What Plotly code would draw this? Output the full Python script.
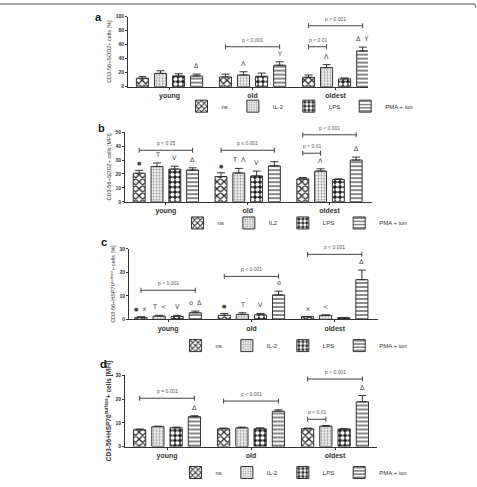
import plotly.graph_objects as go

W, H = 477, 487

groups = ["young", "old", "oldest"]
treatments = ["ns", "IL-2", "LPS", "PMA + ion"]
legend_b = ["ns", "IL2", "LPS", "PMA + ion"]

# ---- panel a: CD3-56+SOD2+ cells [%]
a_mean = [[12.0, 13.9, 13.4], [19.0, 16.7, 27.3], [15.3, 14.8, 11.1], [15.3, 30.6, 51.0]]
a_top = [[14.4, 18.0, 16.7], [22.7, 21.3, 31.5], [18.5, 19.4, 12.5], [18.0, 35.6, 56.5]]
a_marks = [("young", 3, "Δ"), ("old", 1, "Λ"), ("old", 3, "Y"),
           ("oldest", 1, "Λ"), ("oldest", 3, "Δ  Y")]
a_brackets = [("old", 0, 3, 57, "p < 0.001"), ("oldest", 0, 3, 87, "p < 0.001"),
              ("oldest", 0, 1, 57, "p < 0.01")]

BUL = "<span style='font-size:5px'>●</span>"

# ---- panel b: CD3-56+SOD2+ cells [MFI]
b_mean = [[20.5, 18.1, 16.5], [25.3, 20.7, 22.1], [23.5, 18.6, 16.0], [22.8, 25.8, 30.0]]
b_top = [[22.6, 20.9, 17.4], [27.9, 24.0, 23.7], [25.6, 22.1, 16.5], [24.4, 28.8, 32.1]]
b_marks = [("young", 0, BUL), ("young", 1, "T"), ("young", 2, "V"), ("young", 3, "Δ"),
           ("old", 0, BUL), ("old", 1, "T  Λ"), ("old", 2, "V"),
           ("oldest", 1, "Λ"), ("oldest", 3, "Δ")]
b_brackets = [("young", 0, 3, 37, "p < 0.05"), ("old", 0, 3, 37, "p ≤ 0.001"),
              ("oldest", 0, 3, 48.1, "p < 0.001"), ("oldest", 0, 1, 34.9, "p < 0.01")]

# ---- panel c: CD3-56+HSP70surface+ cells [%]
c_mean = [[0.8, 1.7, 1.1], [1.4, 2.1, 1.7], [1.2, 1.9, 0.7], [2.8, 10.4, 16.9]]
c_top = [[1.1, 2.5, 1.2], [1.7, 2.8, 1.9], [1.7, 2.5, 0.8], [3.5, 12.0, 21.0]]
c_marks = [("young", 0, BUL + "  x"), ("young", 1, "T  <"), ("young", 2, "V"), ("young", 3, "o  Δ"),
           ("old", 0, BUL), ("old", 1, "T"), ("old", 2, "V"), ("old", 3, "o"),
           ("oldest", 0, "x"), ("oldest", 1, "<"), ("oldest", 3, "Δ")]
c_brackets = [("young", 0, 3, 12.4, "p < 0.001"), ("old", 0, 3, 18.3, "p < 0.001"),
              ("oldest", 0, 3, 27.7, "p < 0.001")]

# ---- panel d: CD3-56+HSP70surface+ cells [MFI]
d_mean = [[7.1, 7.5, 7.5], [8.4, 7.9, 8.6], [7.9, 7.5, 7.4], [12.6, 14.9, 18.9]]
d_top = [[7.4, 7.8, 7.8], [8.6, 8.2, 8.9], [8.2, 7.9, 7.5], [13.0, 15.5, 21.5]]
d_marks = [("young", 3, "Δ"), ("oldest", 3, "Δ")]
d_brackets = [("young", 0, 3, 20.4, "p = 0.001"), ("old", 0, 3, 19.2, "p < 0.001"),
              ("oldest", 0, 3, 28.5, "p < 0.001"), ("oldest", 0, 1, 11.5, "p < 0.01")]

y_titles = ["CD3-56+SOD2+ cells [%]", "CD3-56+SOD2+ cells [MFI]",
            "CD3-56+HSP70<sup>surface</sup>+ cells [%]",
            "CD3-56+HSP70<sup>surface</sup>+ cells [MFI]"]
y_ranges = [[0, 100], [0, 50], [0, 30], [0, 30]]
y_dticks = [20, 10, 10, 10]
panel_letters = ["a", "b", "c", "d"]

# ---- layout geometry (pixels in the 477x487 page)
boxes = [  # x0, x1, ytop, ybottom
    (128, 368, 14, 86),
    (125, 372, 132.7, 204.3),
    (129, 378, 252.7, 325),
    (125, 377, 382.7, 455.7),
]
x_ranges = [[-0.5, 2.39], [-0.5, 2.52], [-0.47, 2.52], [-0.5, 2.5]]
legend_pos = [(300, 106), (295, 226), (294, 352), (294, 482.5)]
letter_pos = [(98, 14), (101, 128), (104, 246), (103, 371)]

BARGAP = 0.13
GROUPGAP = 0.33
slot = (1 - BARGAP) / 4

FONT = "Liberation Sans, Arial, sans-serif"
INK = "#333333"

patterns = [
    dict(shape="x", fgcolor="#2a2a2a", bgcolor="#ffffff", size=5, solidity=0.45, fillmode="replace"),
    dict(shape=".", fgcolor="#9a9a9a", bgcolor="#f2f2f2", size=3, solidity=0.35, fillmode="replace"),
    dict(shape=".", fgcolor="#ffffff", bgcolor="#1c1c1c", size=5, solidity=0.55, fillmode="replace"),
    dict(shape="-", fgcolor="#555555", bgcolor="#ffffff", size=4, solidity=0.35, fillmode="replace"),
]
base_colors = ["#ffffff", "#f2f2f2", "#1c1c1c", "#ffffff"]

means = [a_mean, b_mean, c_mean, d_mean]
tops = [a_top, b_top, c_top, d_top]
marks = [a_marks, b_marks, c_marks, d_marks]
brackets = [a_brackets, b_brackets, c_brackets, d_brackets]
legend_names = [treatments, legend_b, treatments, treatments]


def pos(group, j):
    return groups.index(group) + (j - 1.5) * slot


fig = go.Figure()
layout = dict(
    width=W, height=H, margin=dict(l=0, r=0, t=0, b=0),
    paper_bgcolor="white", plot_bgcolor="white",
    barmode="group", bargap=BARGAP, bargroupgap=GROUPGAP,
    font=dict(family=FONT, color=INK),
    showlegend=True,
)
annotations = []
shapes = []

for p in range(4):
    sfx = "" if p == 0 else str(p + 1)
    xa, ya = "x" + sfx, "y" + sfx
    leg = "legend" + sfx
    x0, x1, yt, yb = boxes[p]
    for j in range(4):
        err_up = [t - m for t, m in zip(tops[p][j], means[p][j])]
        fig.add_trace(go.Bar(
            x=groups, y=means[p][j], name=legend_names[p][j],
            xaxis=xa, yaxis=ya, legend=leg, offsetgroup=str(j),
            marker=dict(color=base_colors[j], pattern=patterns[j],
                        line=dict(color=INK, width=1)),
            error_y=dict(type="data", symmetric=False, array=err_up,
                         arrayminus=[0] * len(err_up), color=INK,
                         thickness=1, width=4),
            hoverinfo="skip",
        ))
    layout["xaxis" + sfx] = dict(
        domain=[x0 / W, x1 / W], anchor=ya, type="category",
        categoryorder="array", categoryarray=groups, range=x_ranges[p],
        showline=True, linecolor=INK, linewidth=1, ticks="outside",
        ticklen=2, tickcolor=INK, showgrid=False, zeroline=False,
        tickfont=dict(size=7, family=FONT, color=INK, weight="bold"),
    )
    layout["yaxis" + sfx] = dict(
        domain=[1 - yb / H, 1 - yt / H], anchor=xa, range=y_ranges[p],
        dtick=y_dticks[p], showline=True, linecolor=INK, linewidth=1,
        ticks="outside", ticklen=2, tickcolor=INK, showgrid=False,
        zeroline=False,
        tickfont=dict(size=5, family=FONT, color=INK, weight="bold"),
        title=dict(text=y_titles[p], standoff=3,
                   font=dict(size=5.5 if p < 3 else 6.5, family=FONT, color=INK,
                             weight="normal" if p < 3 else "bold")),
    )
    lx, ly = legend_pos[p]
    layout[leg] = dict(
        orientation="h", x=lx / W, y=1 - ly / H, xanchor="center", yanchor="middle",
        font=dict(size=6, family=FONT, color=INK), bgcolor="rgba(0,0,0,0)",
        itemwidth=30, tracegroupgap=0, itemclick=False,
    )
    # significance symbols above bars
    for g, j, txt in marks[p]:
        gi = groups.index(g)
        annotations.append(dict(
            x=pos(g, j), y=tops[p][j][gi], xref=xa, yref=ya, text=txt,
            showarrow=False, yanchor="bottom", yshift=2,
            font=dict(size=6.5, family="DejaVu Sans", color="#444444"),
        ))
    # brackets
    for g, j0, j1, yv, txt in brackets[p]:
        xs, xe = pos(g, j0), pos(g, j1)
        shapes.append(dict(type="line", xref=xa, yref=ya, x0=xs, x1=xe, y0=yv, y1=yv,
                           line=dict(color="#444444", width=1)))
        for xv in (xs, xe):
            shapes.append(dict(type="line", xref=xa, yref=ya, x0=xv, x1=xv,
                               ysizemode="pixel", yanchor=yv, y0=-2.5, y1=2.5,
                               line=dict(color="#444444", width=1)))
        annotations.append(dict(
            x=(xs + xe) / 2, y=yv, xref=xa, yref=ya, text=txt, showarrow=False,
            yanchor="bottom", yshift=2,
            font=dict(size=5, family=FONT, color="#555555"),
        ))
    # panel letter
    px_, py_ = letter_pos[p]
    annotations.append(dict(
        x=px_ / W, y=1 - py_ / H, xref="paper", yref="paper", text="<b>%s</b>" % panel_letters[p],
        showarrow=False, xanchor="center", yanchor="middle",
        font=dict(size=11, family=FONT, color="#111111"),
    ))

# figure frame at the top edge
shapes.append(dict(type="path", xref="paper", yref="paper",
                   path="M 0 %f L %f %f Q %f %f %f %f" % (1 - 1 / H, 1 - 4 / W, 1 - 1 / H,
                                                         1 - 1 / W, 1 - 1 / H, 1 - 1 / W, 1 - 5 / H),
                   line=dict(color="#888888", width=1.5)))

layout["annotations"] = annotations
layout["shapes"] = shapes
fig.update_layout(**layout)
fig.write_html("out.html")
